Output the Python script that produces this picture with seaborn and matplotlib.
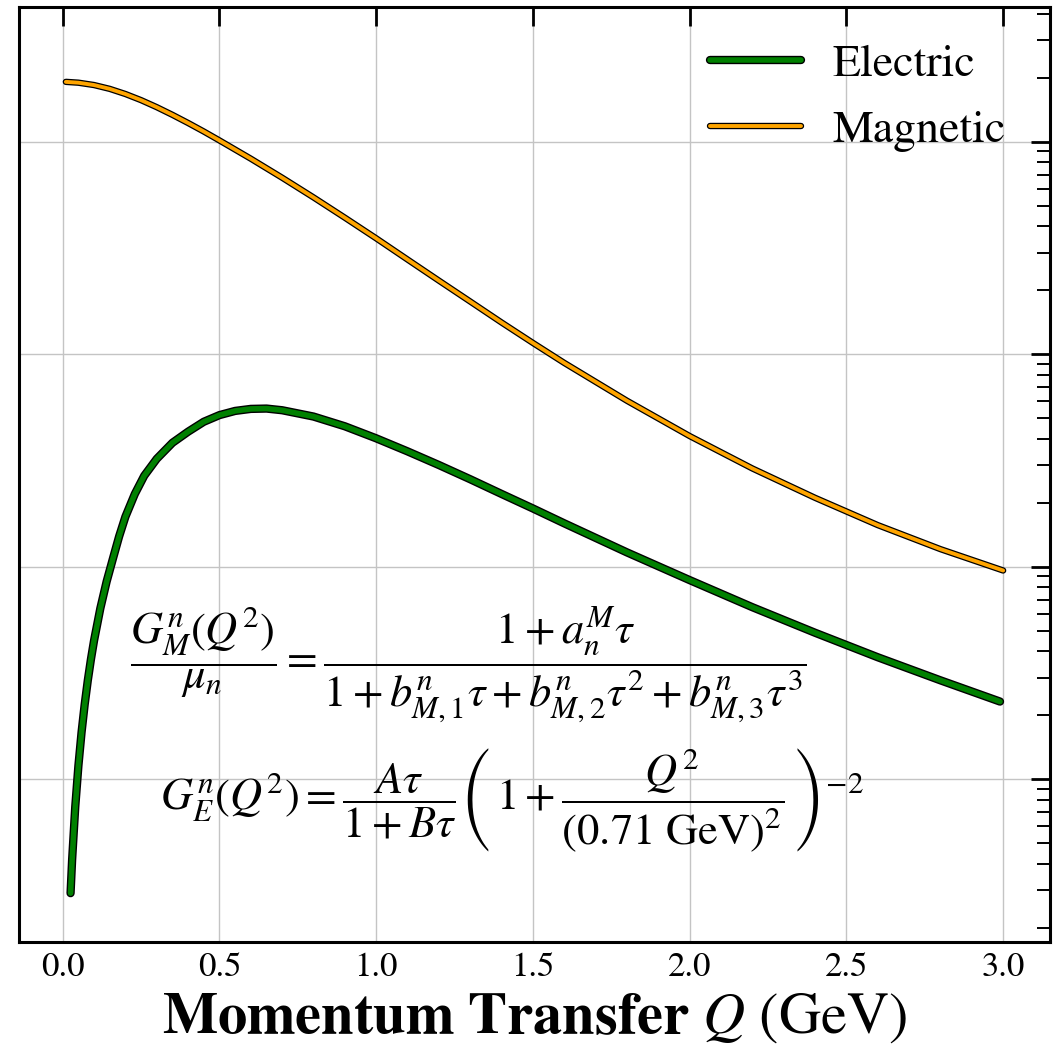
import matplotlib
matplotlib.use("Agg")
import matplotlib.pyplot as plt
import matplotlib.patheffects as pe
import pandas as pd
import seaborn as sns

# Neutron electric form factor G_E^n vs momentum transfer Q (GeV)
q_electric = [0.025, 0.03, 0.04, 0.05, 0.06, 0.07, 0.08, 0.09, 0.10, 0.12,
              0.14, 0.16, 0.18, 0.20, 0.23, 0.26, 0.30, 0.35, 0.40, 0.45,
              0.50, 0.55, 0.60, 0.65, 0.70, 0.80, 0.90, 1.0, 1.1, 1.2,
              1.3, 1.4, 1.5, 1.6, 1.8, 2.0, 2.2, 2.4, 2.6, 2.8, 2.99]
ge_electric = [2.91e-4, 4.19e-4, 7.43e-4, 1.157e-3, 1.659e-3, 2.247e-3, 2.918e-3, 3.67e-3, 4.50e-3, 6.37e-3,
               8.51e-3, 1.09e-2, 1.39e-2, 1.72e-2, 2.20e-2, 2.68e-2, 3.22e-2, 3.83e-2, 4.32e-2, 4.81e-2,
               5.17e-2, 5.41e-2, 5.53e-2, 5.55e-2, 5.45e-2, 5.09e-2, 4.58e-2, 4.02e-2, 3.49e-2, 3.01e-2,
               2.58e-2, 2.20e-2, 1.88e-2, 1.60e-2, 1.168e-2, 8.65e-3, 6.45e-3, 4.89e-3, 3.75e-3, 2.92e-3, 2.32e-3]

# Neutron magnetic form factor G_M^n vs momentum transfer Q (GeV)
q_magnetic = [0.01, 0.05, 0.1, 0.15, 0.2, 0.25, 0.3, 0.35, 0.4, 0.45,
              0.5, 0.6, 0.7, 0.8, 0.9, 1.0, 1.1, 1.2, 1.3, 1.4,
              1.5, 1.6, 1.8, 2.0, 2.2, 2.4, 2.6, 2.8, 3.0]
gm_magnetic = [1.913, 1.896, 1.848, 1.773, 1.677, 1.569, 1.454, 1.338, 1.225, 1.117,
               1.014, 0.832, 0.677, 0.547, 0.439, 0.351, 0.279, 0.222, 0.177, 0.141,
               0.113, 0.0910, 0.0604, 0.0412, 0.0290, 0.0211, 0.0157, 0.0121, 0.0096]

x_ticks = [0.0, 0.5, 1.0, 1.5, 2.0, 2.5, 3.0]
x_tick_labels = ["0.0", "0.5", "1.0", "1.5", "2.0", "2.5", "3.0"]
series_names = ["Electric", "Magnetic"]
series_colors = ["green", "orange"]

sns.set_theme(style="white")
plt.rcParams["font.family"] = ["STIXGeneral", "DejaVu Serif"]
plt.rcParams["mathtext.fontset"] = "stix"
plt.rcParams["text.color"] = "black"
plt.rcParams["axes.labelcolor"] = "black"
plt.rcParams["xtick.color"] = "black"
plt.rcParams["ytick.color"] = "black"

fig = plt.figure(figsize=(10.56, 10.45), dpi=100)
ax = fig.add_axes([19 / 1056, 103 / 1045, 1031 / 1056, 935 / 1045])
ax.set_yscale("log")

df_e = pd.DataFrame({"Q": q_electric, "G": ge_electric})
df_m = pd.DataFrame({"Q": q_magnetic, "G": gm_magnetic})

sns.lineplot(data=df_e, x="Q", y="G", ax=ax, color=series_colors[0], lw=4.0,
             label=series_names[0], solid_capstyle="round", solid_joinstyle="round",
             zorder=3,
             path_effects=[pe.Stroke(linewidth=6.0, foreground="black"), pe.Normal()])
sns.lineplot(data=df_m, x="Q", y="G", ax=ax, color=series_colors[1], lw=2.8,
             label=series_names[1], solid_capstyle="round", solid_joinstyle="round",
             zorder=3,
             path_effects=[pe.Stroke(linewidth=4.6, foreground="black"), pe.Normal()])

ax.set_xlim(-0.1395, 3.1495)
ax.set_ylim(10 ** -3.766, 10 ** 0.634)

ax.set_xticks(x_ticks)
ax.set_xticklabels(x_tick_labels, fontsize=25)
ax.tick_params(axis="both", which="both", direction="in", top=True, right=True,
               colors="black")
ax.tick_params(which="major", length=13.5, width=2.0, pad=7)
ax.tick_params(which="minor", length=9.4, width=1.4)
ax.tick_params(axis="x", which="minor", bottom=False, top=False)
ax.tick_params(axis="y", which="both", labelleft=False, labelright=False)

ax.grid(True, which="major", color="#c4c4c4", lw=1.0, zorder=0)
for sp in ax.spines.values():
    sp.set_linewidth(2.2)
    sp.set_color("black")

ax.set_xlabel(r"$\mathbf{Momentum\ Transfer}\ Q\ (\mathrm{GeV})$", fontsize=42,
              labelpad=6)
ax.set_ylabel("")

ax.legend(loc="upper right", bbox_to_anchor=(0.9971, 1.0043), frameon=False,
          fontsize=33, handlelength=2.0, handletextpad=0.68, labelspacing=0.52)

eq_magnetic = (r"$\dfrac{G_M^n(Q^2)}{\mu_n} = "
               r"\dfrac{1 + a_n^M\tau}{1 + b_{M,1}^n\tau + b_{M,2}^n\tau^2 + b_{M,3}^n\tau^3}$")
eq_electric = (r"$G_E^n(Q^2) = \dfrac{A\tau}{1 + B\tau}"
               r"\left(\,1 + \dfrac{Q^2}{(0.71\ \mathrm{GeV})^2}\,\right)^{-2}$")
ax.text(0.1077, 0.296, eq_magnetic, transform=ax.transAxes, fontsize=32,
        ha="left", va="center")
ax.text(0.1368, 0.152, eq_electric, transform=ax.transAxes, fontsize=32,
        ha="left", va="center")

fig.savefig("out.png", dpi=100)
